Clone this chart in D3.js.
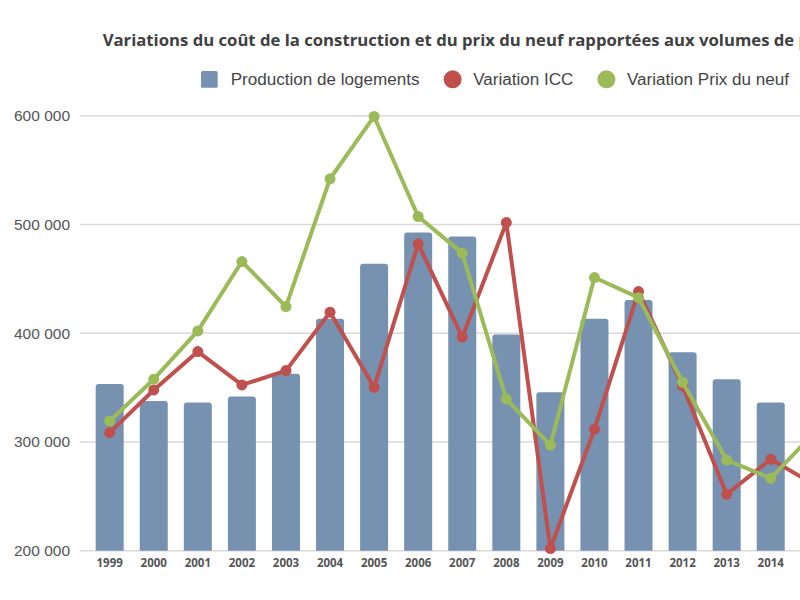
<!DOCTYPE html>
<html>
<head>
<meta charset="utf-8">
<script src="https://cdn.jsdelivr.net/npm/d3@7/dist/d3.min.js"></script>
<style>
  html, body { margin: 0; padding: 0; background: #fff; overflow: hidden; }
  svg { display: block; }
</style>
</head>
<body>
<svg id="chart" width="860" height="600"></svg>
<script>
const title = "Variations du coût de la construction et du prix du neuf rapportées aux volumes de production";
const years = ["1999","2000","2001","2002","2003","2004","2005","2006","2007","2008","2009","2010","2011","2012","2013","2014","2015"];
const production = [353400, 337700, 336200, 341700, 362600, 413200, 463800, 492600, 488900, 398700, 345700, 413200, 430600, 382500, 357700, 336200, 340000];
const variationICC = [308600, 347800, 383100, 352400, 365600, 419300, 350300, 482200, 396300, 501700, 202000, 311700, 438300, 351500, 251900, 284100, 260600];
const variationPrix = [319300, 357700, 402100, 465900, 424500, 542000, 599300, 507300, 473600, 339300, 297000, 451200, 432700, 354900, 283400, 266600, 309000];
const yTicks = [200000, 300000, 400000, 500000, 600000];
const seriesNames = ["Production de logements", "Variation ICC", "Variation Prix du neuf"];
const colors = ["#7791b1", "#c0504d", "#9bbb59"];

const svg = d3.select("#chart");
const plotLeft = 80, plotTop = 115.7, plotBottom = 550.7;

const x = d3.scaleBand()
  .domain(years)
  .range([plotLeft, 844.5])
  .paddingInner(0.3647)
  .paddingOuter(0.356);

const y = d3.scaleLinear().domain([200000, 600000]).range([plotBottom, plotTop]);

const fmt = v => d3.format(",")(v).replace(/,/g, " ");

// Gridlines
svg.append("g").selectAll("line").data(yTicks).join("line")
  .attr("x1", plotLeft).attr("x2", 860)
  .attr("y1", d => y(d)).attr("y2", d => y(d))
  .attr("stroke", "#d9d9d9").attr("stroke-width", 1.5);

// Y labels
const yAxis = d3.axisLeft(y).tickValues(yTicks).tickFormat(fmt).tickSize(0).tickPadding(0);
const gy = svg.append("g").attr("transform", "translate(70,0)").call(yAxis);
gy.select(".domain").remove();
gy.selectAll("text")
  .attr("font-family", "Liberation Sans, Arial, sans-serif")
  .attr("font-size", 15.5).attr("fill", "#555");

// X labels
const xAxis = d3.axisBottom(x).tickSize(0).tickPadding(0);
const gx = svg.append("g").attr("transform", "translate(0,559)").call(xAxis);
gx.select(".domain").remove();
gx.selectAll("text")
  .attr("font-family", "Open Sans, sans-serif")
  .attr("font-weight", "bold")
  .attr("font-size", 11.5).attr("fill", "#555");

// Bars with rounded top corners
const rr = 3;
svg.append("g").selectAll("path").data(years).join("path")
  .attr("d", (d, i) => {
    const x0 = x(d), w = x.bandwidth(), yt = y(production[i]), yb = y(200000);
    return `M${x0},${yb}V${yt + rr}Q${x0},${yt} ${x0 + rr},${yt}H${x0 + w - rr}Q${x0 + w},${yt} ${x0 + w},${yt + rr}V${yb}Z`;
  })
  .attr("fill", colors[0]);

// Lines
function drawLine(values, color) {
  const line = d3.line()
    .x((d, i) => x(years[i]) + x.bandwidth() / 2)
    .y(d => y(d));
  svg.append("path").datum(values)
    .attr("d", line).attr("fill", "none")
    .attr("stroke", color).attr("stroke-width", 4)
    .attr("stroke-linejoin", "round");
  svg.append("g").selectAll("circle").data(values).join("circle")
    .attr("cx", (d, i) => x(years[i]) + x.bandwidth() / 2)
    .attr("cy", d => y(d))
    .attr("r", 5.5).attr("fill", color);
}
drawLine(variationICC, colors[1]);
drawLine(variationPrix, colors[2]);

// Title: fit so that the visible part ends near the right edge
const t = svg.append("text")
  .attr("x", 102.7).attr("y", 45.7)
  .attr("font-family", "Open Sans, sans-serif")
  .attr("font-weight", "bold")
  .attr("fill", "#404040")
  .attr("font-size", 16);
const prefix = "Variations du coût de la construction et du prix du neuf rapportées aux volumes de ";
t.text(prefix);
const pw = t.node().getComputedTextLength();
t.attr("font-size", 16 * 692 / pw).text(title);

// Legend
const lg = svg.append("g");
const lfont = "Liberation Sans, Arial, sans-serif";
const tmp = lg.append("text").attr("font-family", lfont).attr("font-size", 16).text(seriesNames[0]);
const lw = tmp.node().getComputedTextLength();
tmp.remove();
const lsize = 16 * 189 / lw;
let cx = 201;
seriesNames.forEach((name, i) => {
  if (i === 0) {
    lg.append("rect").attr("x", cx).attr("y", 71).attr("width", 16.7).attr("height", 16.7)
      .attr("rx", 1.5).attr("fill", colors[0]);
    cx += 29.7;
  } else {
    lg.append("circle").attr("cx", cx + 9).attr("cy", 79.3).attr("r", 9).attr("fill", colors[i]);
    cx += 29.5;
  }
  const tx = lg.append("text").attr("x", cx).attr("y", 85)
    .attr("font-family", lfont).attr("font-size", lsize).attr("fill", "#444").text(name);
  cx += tx.node().getComputedTextLength() + 24;
});
</script>
</body>
</html>
